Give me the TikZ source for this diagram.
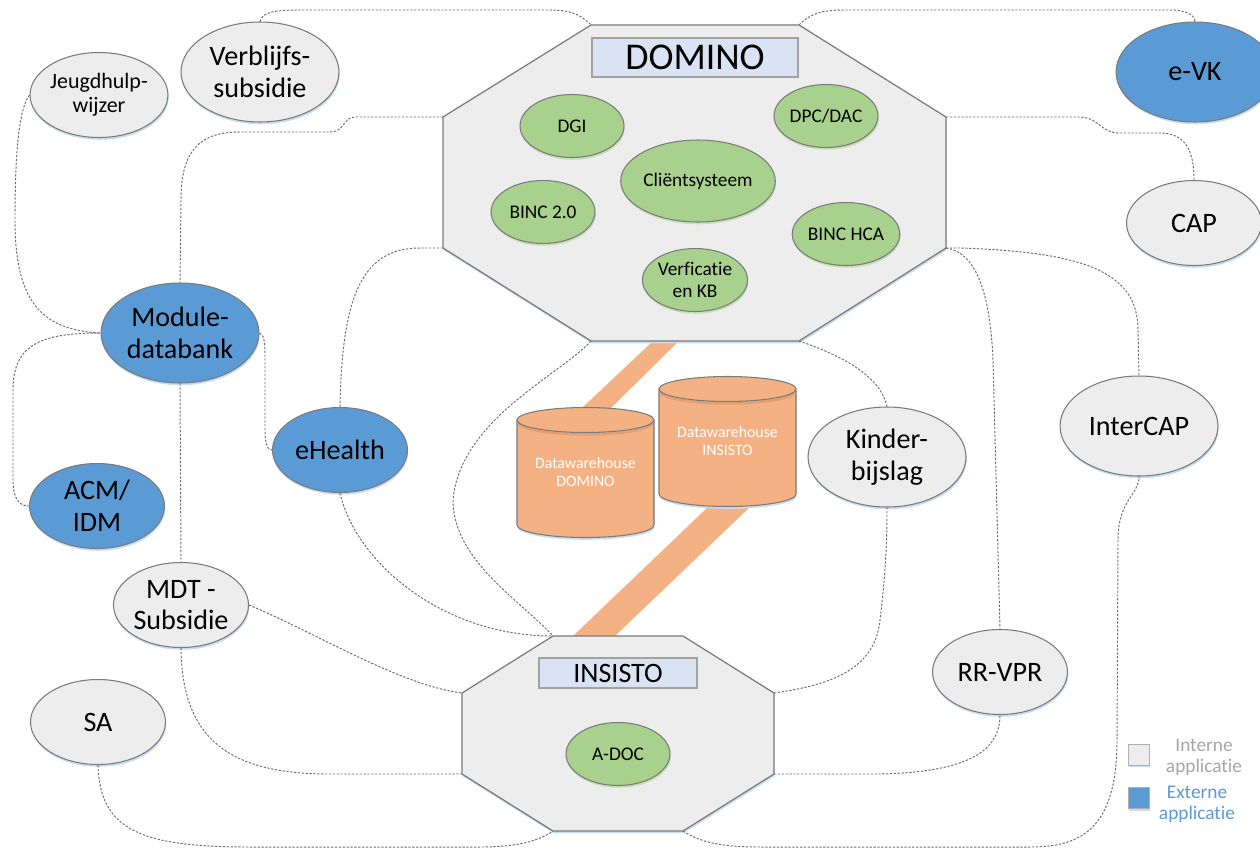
\documentclass[tikz,border=0pt]{standalone}
\usepackage{fontspec}
\setmainfont{Carlito}[Ligatures = NoCommon]
\usetikzlibrary{shapes.geometric, shadows}

\definecolor{appgray}{HTML}{EDEDED}
\definecolor{extblue}{HTML}{5B9BD5}
\definecolor{subgreen}{HTML}{A9D18E}
\definecolor{dworange}{HTML}{F4B183}
\definecolor{dwrim}{HTML}{E3A073}
\definecolor{titleblue}{HTML}{DAE3F3}
\definecolor{linegray}{HTML}{7A7A7A}
\definecolor{conngray}{HTML}{6E6E6E}
\definecolor{shadowblue}{HTML}{C9DDF2}
\definecolor{shadowgreen}{HTML}{C8DEB8}
\definecolor{legendgray}{HTML}{A6A6A6}

\tikzset{
	bluish/.style = {drop shadow = {shadow xshift = 0.4pt, shadow yshift = -1.3pt, fill = shadowblue, opacity = 1}},
	app/.style = {ellipse, draw = linegray, line width = 0.6pt, fill = appgray, inner sep = 0pt, align = center, font = \fontsize{16}{18}\selectfont, bluish},
	bigapp/.style = {app, minimum width = 3.16cm, minimum height = 2cm},
	smallapp/.style = {app, minimum width = 2.7cm, minimum height = 1.7cm},
	external/.style = {fill = extblue},
	component/.style = {ellipse, draw = linegray, line width = 0.6pt, fill = subgreen, inner sep = 0pt, minimum width = 2.08cm, minimum height = 1.26cm, align = center, font = \fontsize{11}{12.3}\selectfont, drop shadow = {shadow xshift = 0.4pt, shadow yshift = -1.3pt, fill = shadowgreen, opacity = 1}},
	system/.style = {draw = linegray, line width = 0.7pt, fill = appgray, bluish},
	titlebox/.style = {draw = linegray!70, line width = 0.7pt, fill = titleblue, inner sep = 0pt},
	dw/.style = {draw = linegray, line width = 0.6pt, fill = dworange, bluish},
	dwtext/.style = {text = white, align = center, font = \fontsize{9}{10.4}\selectfont},
	band/.style = {fill = dworange},
	conn/.style = {draw = conngray, line width = 0.55pt, dash pattern = on 1.3pt off 0.9pt},
	legendbox/.style = {draw = linegray!60, minimum size = 0.42cm, inner sep = 0pt, bluish},
	legendtext/.style = {align = center, font = \fontsize{11}{12}\selectfont},
}

\begin{document}
\begin{tikzpicture}[x = 0.02cm, y = 0.02cm]

\useasboundingbox (0,0) rectangle (1260,-849);

\fill[band] (664.7,-330) -- (690,-330) -- (578.5,-440) -- (548,-440) -- cycle;
\fill[band] (725.8,-490) -- (767.8,-490) -- (600.3,-650) -- (558.3,-650) -- cycle;

\filldraw[system] (591,-25) coordinate (dtl) -- (799,-25) coordinate (dtr) -- (946,-117) coordinate (drt) -- (946,-248) coordinate (drb)
	-- (799,-341) coordinate (dbr) -- (591,-341) coordinate (dbl) -- (443,-248) coordinate (dlb) -- (443,-117) coordinate (dlt) -- cycle;
\filldraw[system] (553,-636) coordinate (itl) -- (683,-636) coordinate (itr) -- (774,-693) coordinate (irt) -- (774,-774) coordinate (irb)
	-- (683,-831) coordinate (ibr) -- (553,-831) coordinate (ibl) -- (462,-774) coordinate (ilb) -- (462,-693) coordinate (ilt) -- cycle;

\node[titlebox, minimum width = 4.12cm, minimum height = 0.78cm, font = \fontsize{21.5}{24}\selectfont] (domino) at (695,-57.5) {DOMINO};
\node[titlebox, minimum width = 3.16cm, minimum height = 0.6cm, font = \fontsize{16}{18}\selectfont] (insisto) at (618,-673) {INSISTO};

\foreach \xl/\ytop/\ybot in {517/420/525, 659/389/494} {
	\pgfmathsetmacro{\xr}{\xl + 137}
	\filldraw[dw] (\xl,-\ytop) -- (\xl,-\ybot) arc[start angle = 180, end angle = 360, x radius = 68.5, y radius = 12.5]
		-- (\xr,-\ytop) arc[start angle = 0, end angle = 180, x radius = 68.5, y radius = 12.5] -- cycle;
	\draw[dwrim, line width = 1.4pt] (\xl+1.5,-\ytop-2.5) arc[start angle = 180, end angle = 360, x radius = 67, y radius = 12];
	\draw[linegray, line width = 0.6pt] (\xl,-\ytop) arc[start angle = 180, end angle = 360, x radius = 68.5, y radius = 12.5];
}
\node[dwtext] (dwdomino) at (585.5,-472) {Datawarehouse\\DOMINO};
\node[dwtext] (dwinsisto) at (727.5,-441) {Datawarehouse\\INSISTO};

\node[component] (dgi) at (572,-126) {DGI};
\node[component] (dpc) at (826,-116) {DPC/DAC};
\node[component, minimum width = 2.7cm, minimum height = 1.64cm] (client) at (698,-181) {Cliëntsysteem};
\node[component] (binc2) at (543,-212) {BINC 2.0};
\node[component] (binchca) at (846,-234) {BINC HCA};
\node[component] (verf) at (695,-280) {Verficatie\\en KB};
\node[component] (adoc) at (618,-754) {A-DOC};

\node[bigapp] (verblijf) at (260,-72) {Verblijfs-\\subsidie};
\node[smallapp, font = \fontsize{12.5}{13.6}\selectfont] (jeugd) at (99,-95) {Jeugdhulp-\\wijzer};
\node[bigapp, external] (evk) at (1195,-72) {e-VK};
\node[smallapp] (cap) at (1194,-223) {CAP};
\node[bigapp, external] (module) at (180,-333) {Module-\\databank};
\node[smallapp, external] (ehealth) at (340,-450) {eHealth};
\node[smallapp, external] (acm) at (97,-506) {ACM/\\IDM};
\node[smallapp] (mdt) at (181,-605) {MDT -\\Subsidie};
\node[smallapp] (sa) at (98,-722) {SA};
\node[bigapp] (kinder) at (887,-457) {Kinder-\\bijslag};
\node[bigapp] (intercap) at (1139,-426) {InterCAP};
\node[smallapp] (rrvpr) at (1000,-672) {RR-VPR};

\draw[conn] (verblijf.north) .. controls (262,-12) and (275,-10) .. (300,-10) -- (550,-10) .. controls (570,-10) and (580,-14) .. (dtl);
\draw[conn] (dtr) .. controls (810,-14) and (820,-10) .. (845,-10) -- (1170,-10) .. controls (1185,-10) and (1194,-14) .. (evk.north);
\draw[conn] (dlt) -- (355,-117) .. controls (343,-117) and (345,-132) .. (330,-132) -- (240,-132) .. controls (200,-132) and (181,-150) .. (181,-200) -- (module.north);
\draw[conn] (dlb) -- (420,-248) .. controls (360,-248) and (342,-300) .. (ehealth.north);
\draw[conn] (jeugd.west) .. controls (18,-110) and (15,-160) .. (15,-220) .. controls (15,-300) and (40,-330) .. (module.west);
\draw[conn] (module.west) .. controls (40,-333) and (13,-345) .. (13,-390) -- (13,-480) .. controls (13,-500) and (20,-506) .. (acm.west);
\draw[conn] (module.south) -- (mdt.north);
\draw[conn] (module.east) .. controls (265,-335) and (265,-345) .. (265,-360) -- (265,-430) .. controls (265,-445) and (268,-450) .. (ehealth.west);
\draw[conn] (ehealth.south) .. controls (355,-560) and (440,-636) .. (itl);
\draw[conn] (mdt.east) .. controls (320,-635) and (400,-685) .. (ilt);
\draw[conn] (mdt.south) .. controls (182,-740) and (230,-774) .. (330,-774) -- (ilb);
\draw[conn] (sa.south) .. controls (100,-830) and (140,-847) .. (250,-847) -- (480,-847) .. controls (520,-847) and (540,-840) .. (ibl);
\draw[conn] (ibr) .. controls (700,-842) and (720,-847) .. (760,-847) -- (1030,-847) .. controls (1080,-847) and (1117,-830) .. (1117,-740)
	-- (1118,-540) .. controls (1118,-500) and (1139,-495) .. (intercap.south);
\draw[conn] (irb) -- (880,-774) .. controls (970,-772) and (1000,-750) .. (rrvpr.south);
\draw[conn] (irt) .. controls (830,-685) and (875,-670) .. (880,-620) .. controls (886,-570) and (887,-540) .. (kinder.south);
\draw[conn] (dbr) .. controls (840,-355) and (880,-375) .. (kinder.north);
\draw[conn] (drb) .. controls (975,-252) and (990,-290) .. (993,-360) -- (rrvpr.north);
\draw[conn] (drb) -- (960,-248) .. controls (1080,-252) and (1138,-270) .. (1138,-330) -- (intercap.north);
\draw[conn] (drt) -- (1080,-117) .. controls (1100,-118) and (1100,-133) .. (1120,-133) -- (1160,-133) .. controls (1185,-133) and (1194,-150) .. (cap.north);
\draw[conn] (dbl) .. controls (560,-375) and (460,-420) .. (453,-500) .. controls (453,-560) and (520,-600) .. (itl);

\node[legendbox, fill = appgray] (legint) at (1138.5,-754.5) {};
\node[legendbox, fill = extblue] (legext) at (1138.5,-798) {};
\node[legendtext, text = legendgray] (leginttext) at (1204,-757) {Interne\\applicatie};
\node[legendtext, text = extblue] (legexttext) at (1197,-804) {Externe\\applicatie};

\end{tikzpicture}
\end{document}
